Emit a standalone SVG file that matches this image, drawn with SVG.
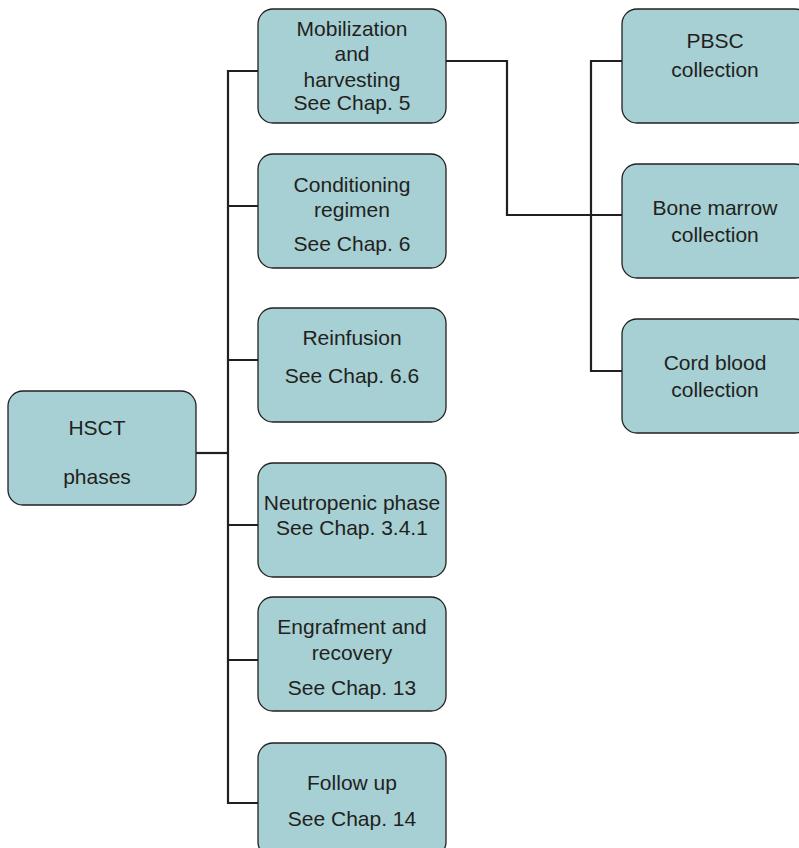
<svg xmlns="http://www.w3.org/2000/svg" width="799" height="848" viewBox="0 0 799 848">
<style>
.box{fill:#a6d0d3;stroke:#231f20;stroke-width:1.3}
.t{font-family:"Liberation Sans",Arial,sans-serif;font-size:21px;fill:#231f20;text-anchor:middle}
.c{fill:none;stroke:#231f20;stroke-width:2.2}
</style>
<rect width="799" height="848" fill="#fff"/>
<g id="connectors">
<path class="c" d="M196 453 H228"/>
<path class="c" d="M258 71 H228 V803 H258"/>
<path class="c" d="M228 206 H258 M228 360 H258 M228 525 H258 M228 660 H258"/>
<path class="c" d="M446 61 H507 V215 H622"/>
<path class="c" d="M622 61 H591 V371 H622"/>
</g>
<g id="hsct">
<rect class="box" x="8" y="391" width="188" height="114" rx="15"/>
<text class="t" x="97" y="435">HSCT</text>
<text class="t" x="97" y="484">phases</text>
</g>
<g id="mobilization">
<rect class="box" x="258" y="9" width="188" height="114" rx="15"/>
<text class="t" x="352" y="36">Mobilization</text>
<text class="t" x="352" y="61">and</text>
<text class="t" x="352" y="87">harvesting</text>
<text class="t" x="352" y="110">See Chap. 5</text>
</g>
<g id="conditioning">
<rect class="box" x="258" y="154" width="188" height="114" rx="15"/>
<text class="t" x="352" y="192">Conditioning</text>
<text class="t" x="352" y="217">regimen</text>
<text class="t" x="352" y="251">See Chap. 6</text>
</g>
<g id="reinfusion">
<rect class="box" x="258" y="308" width="188" height="114" rx="15"/>
<text class="t" x="352" y="345">Reinfusion</text>
<text class="t" x="352" y="383">See Chap. 6.6</text>
</g>
<g id="neutropenic">
<rect class="box" x="258" y="463" width="188" height="114" rx="15"/>
<text class="t" x="352" y="510">Neutropenic phase</text>
<text class="t" x="352" y="535">See Chap. 3.4.1</text>
</g>
<g id="engraftment">
<rect class="box" x="258" y="597" width="188" height="114" rx="15"/>
<text class="t" x="352" y="634">Engrafment and</text>
<text class="t" x="352" y="660">recovery</text>
<text class="t" x="352" y="695">See Chap. 13</text>
</g>
<g id="followup">
<rect class="box" x="258" y="743" width="188" height="114" rx="15"/>
<text class="t" x="352" y="790">Follow up</text>
<text class="t" x="352" y="826">See Chap. 14</text>
</g>
<g id="pbsc">
<rect class="box" x="622" y="9" width="188" height="114" rx="15"/>
<text class="t" x="715" y="48">PBSC</text>
<text class="t" x="715" y="77">collection</text>
</g>
<g id="bonemarrow">
<rect class="box" x="622" y="164" width="188" height="114" rx="15"/>
<text class="t" x="715" y="215">Bone marrow</text>
<text class="t" x="715" y="242">collection</text>
</g>
<g id="cordblood">
<rect class="box" x="622" y="319" width="188" height="114" rx="15"/>
<text class="t" x="715" y="370">Cord blood</text>
<text class="t" x="715" y="397">collection</text>
</g>
</svg>
